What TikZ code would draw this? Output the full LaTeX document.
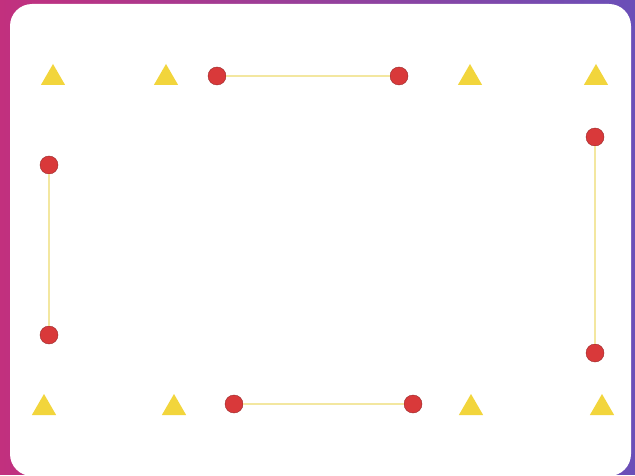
\documentclass[tikz,border=0pt]{standalone}
\usetikzlibrary{shapes.geometric}

\definecolor{fondoA}{HTML}{C2307E}
\definecolor{fondoB}{HTML}{6A4FB8}
\definecolor{conoamarillo}{HTML}{F2D53C}
\definecolor{puntorojo}{HTML}{D9393A}
\definecolor{lineaamarilla}{HTML}{F3E7A0}

\begin{document}
\begin{tikzpicture}[x=1pt, y=-1pt,
    cono/.style   = {regular polygon, regular polygon sides=3, fill=conoamarillo,
                     inner sep=0pt, minimum size=28pt},
    punto/.style  = {circle, fill=puntorojo, draw=puntorojo!70!black, line width=0.4pt,
                     inner sep=0pt, minimum size=18pt},
    cuerda/.style = {lineaamarilla, line width=2pt},
]

% Fondo y tablero
\fill[left color=fondoA, right color=fondoB] (0,0) rectangle (635,474);
\fill[white, rounded corners=22pt] (10,4) rectangle (631,476);
\useasboundingbox (0,0) rectangle (635,474);

% Conos superiores
\node[cono] (t1) at (53,78)  {};
\node[cono] (t2) at (166,78) {};
\node[cono] (t3) at (470,78) {};
\node[cono] (t4) at (596,78) {};

% Conos inferiores
\node[cono] (b1) at (44,408)  {};
\node[cono] (b2) at (174,408) {};
\node[cono] (b3) at (471,408) {};
\node[cono] (b4) at (602,408) {};

% Puntos
\node[punto] (ps1) at (217,76)  {};
\node[punto] (ps2) at (399,76)  {};
\node[punto] (pi1) at (49,165)  {};
\node[punto] (pi2) at (49,335)  {};
\node[punto] (pd1) at (595,137) {};
\node[punto] (pd2) at (595,353) {};
\node[punto] (pb1) at (234,404) {};
\node[punto] (pb2) at (413,404) {};

% Cuerdas
\draw[cuerda] (ps1) -- (ps2);
\draw[cuerda] (pi1) -- (pi2);
\draw[cuerda] (pd1) -- (pd2);
\draw[cuerda] (pb1) -- (pb2);

\end{tikzpicture}
\end{document}
